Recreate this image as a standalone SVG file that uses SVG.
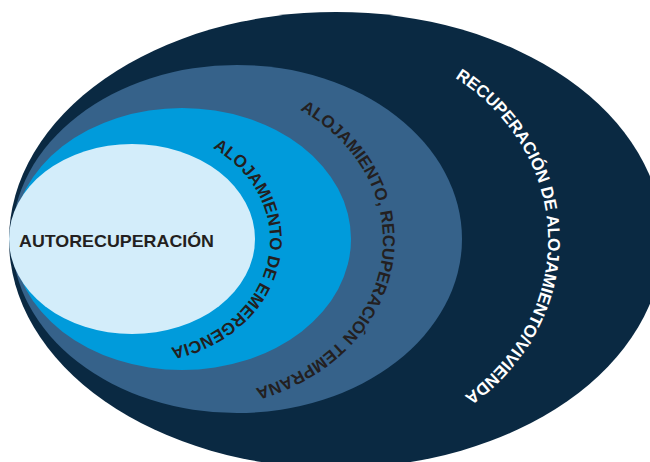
<svg xmlns="http://www.w3.org/2000/svg" xmlns:xlink="http://www.w3.org/1999/xlink" width="650" height="462" viewBox="0 0 650 462">
<style>
.lbl{font-family:"Liberation Sans",Arial,sans-serif;font-weight:bold;font-size:17px}
.dark{fill:#231f20}
.white{fill:#ffffff}
</style>
<defs>
<path id="pEmerg" d="M212.7,148 A130,111 0 0 1 162.6,349.3"/>
<path id="pTemp" d="M300.1,109.8 A188,157 0 0 1 227.6,394.6"/>
<path id="pViv" d="M455,77.8 A218,198 0 0 1 404.6,426.1"/>
</defs>
<rect width="650" height="462" fill="#ffffff"/>
<g id="vivienda">
<ellipse cx="336" cy="240" rx="327" ry="228" fill="#0a2942"/>
<text class="lbl white"><textPath xlink:href="#pViv" href="#pViv">RECUPERACIÓN DE ALOJAMIENTO/VIVIENDA</textPath></text>
</g>
<g id="temprana">
<ellipse cx="237" cy="239" rx="225" ry="174" fill="#36628a"/>
<text class="lbl dark"><textPath xlink:href="#pTemp" href="#pTemp">ALOJAMIENTO, RECUPERACIÓN TEMPRANA</textPath></text>
</g>
<g id="emergencia">
<ellipse cx="182" cy="239" rx="169" ry="131" fill="#009bdb"/>
<text class="lbl dark"><textPath xlink:href="#pEmerg" href="#pEmerg">ALOJAMIENTO DE EMERGENCIA</textPath></text>
</g>
<g id="autorecuperacion">
<ellipse cx="132" cy="239" rx="123" ry="95" fill="#d3edfa"/>
<text class="lbl dark" x="19" y="247" textLength="195" lengthAdjust="spacingAndGlyphs">AUTORECUPERACIÓN</text>
</g>
<g id="connectors"/>
</svg>
